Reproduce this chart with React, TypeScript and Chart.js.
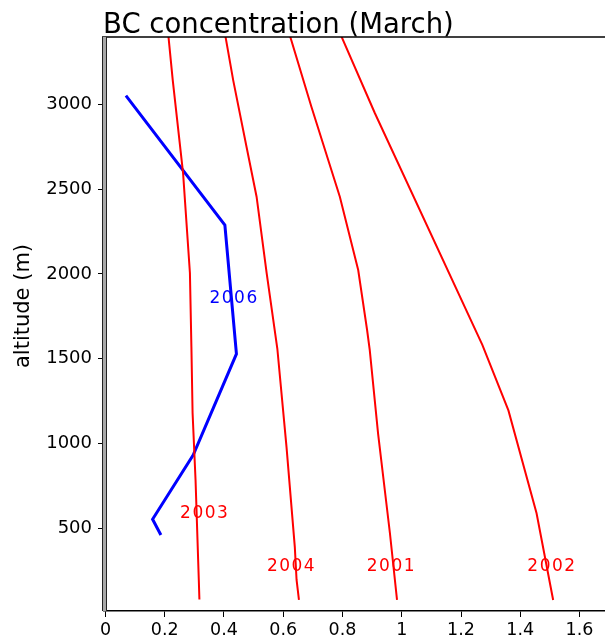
import { useEffect, useRef } from "react";
import { Chart, registerables } from "chart.js";

Chart.register(...registerables);

const TITLE = "BC concentration (March)";
const Y_TITLE = "altitude (m)";

const X_TICKS = [0, 0.2, 0.4, 0.6, 0.8, 1, 1.2, 1.4, 1.6];
const X_TICK_LABELS = ["0", "0.2", "0.4", "0.6", "0.8", "1", "1.2", "1.4", "1.6"];
const Y_TICKS = [500, 1000, 1500, 2000, 2500, 3000];
const Y_TICK_LABELS = ["500", "1000", "1500", "2000", "2500", "3000"];

// BC concentration (x) vs altitude (y, m)
const BC_2006 = [0.069, 0.403, 0.442, 0.296, 0.159, 0.187];
const ALT_2006 = [3051, 2288, 1528, 932, 553, 460];

const BC_2003 = [0.212, 0.227, 0.262, 0.285, 0.29, 0.294, 0.304, 0.315, 0.317];
const ALT_2003 = [3410, 3143, 2593, 2005, 1571, 1180, 785, 195, 80];

const BC_2004 = [0.404, 0.431, 0.476, 0.51, 0.544, 0.58, 0.611, 0.639, 0.645, 0.653];
const ALT_2004 = [3410, 3143, 2750, 2455, 2005, 1560, 980, 390, 195, 77];

const BC_2001 = [0.622, 0.695, 0.791, 0.853, 0.883, 0.892, 0.92, 0.96, 0.984];
const ALT_2001 = [3408, 2986, 2455, 2023, 1669, 1551, 1060, 472, 77];

const BC_2002 = [0.794, 0.909, 1.272, 1.36, 1.455, 1.511];
const ALT_2002 = [3410, 2949, 1581, 1195, 588, 77];

const LABEL_TEXT = ["2006", "2003", "2004", "2001", "2002"];
const LABEL_X = [0.434, 0.335, 0.628, 0.965, 1.507];
const LABEL_Y = [1852, 587, 274, 274, 274];
const LABEL_COLOR = ["#0000ff", "#ff0000", "#ff0000", "#ff0000", "#ff0000"];

const RED = "#ff0000";
const BLUE = "#0000ff";
const FONT = "'DejaVu Sans', sans-serif";

const toPoints = (xs: number[], ys: number[]) => xs.map((x, i) => ({ x, y: ys[i] }));

const framePlugin = {
  id: "frame",
  afterDraw(chart: any) {
    const { ctx, chartArea } = chart;
    const { left, right, top, bottom } = chartArea;
    ctx.save();
    // top border
    ctx.strokeStyle = "#000";
    ctx.lineWidth = 1.5;
    ctx.beginPath();
    ctx.moveTo(left - 2, top);
    ctx.lineTo(right, top);
    ctx.stroke();
    // left band
    ctx.fillStyle = "#a8a8a8";
    ctx.fillRect(left - 2, top, 5, bottom - top);
    ctx.strokeStyle = "#222";
    ctx.lineWidth = 1;
    ctx.beginPath();
    ctx.moveTo(left - 1.5, top);
    ctx.lineTo(left - 1.5, bottom);
    ctx.moveTo(left + 2.5, top);
    ctx.lineTo(left + 2.5, bottom);
    ctx.stroke();

    // title
    ctx.fillStyle = "#000";
    ctx.font = `27.5px ${FONT}`;
    ctx.textAlign = "left";
    ctx.textBaseline = "alphabetic";
    ctx.fillText(TITLE, 103, 33);

    // y title
    ctx.save();
    ctx.translate(29, 306);
    ctx.rotate(-Math.PI / 2);
    ctx.font = `21px ${FONT}`;
    ctx.textAlign = "center";
    ctx.textBaseline = "alphabetic";
    ctx.fillText(Y_TITLE, 0, 0);
    ctx.restore();

    // line labels
    const xs = chart.scales.x;
    const ys = chart.scales.y;
    ctx.font = `17px ${FONT}`;
    (ctx as any).letterSpacing = "1.5px";
    ctx.textAlign = "center";
    ctx.textBaseline = "middle";
    LABEL_TEXT.forEach((t, i) => {
      ctx.fillStyle = LABEL_COLOR[i];
      ctx.fillText(t, xs.getPixelForValue(LABEL_X[i]), ys.getPixelForValue(LABEL_Y[i]));
    });
    ctx.restore();
  },
};

export default function App() {
  const ref = useRef<HTMLCanvasElement>(null);
  useEffect(() => {
    if (!ref.current) return;
    const ds = (label: string, xs: number[], ys: number[], color: string, w: number) => ({
      label,
      data: toPoints(xs, ys),
      borderColor: color,
      backgroundColor: color,
      borderWidth: w,
      pointRadius: 0,
      showLine: true,
      tension: 0,
    });
    const chart = new Chart(ref.current, {
      type: "scatter",
      data: {
        datasets: [
          ds("2003", BC_2003, ALT_2003, RED, 2),
          ds("2004", BC_2004, ALT_2004, RED, 2),
          ds("2001", BC_2001, ALT_2001, RED, 2),
          ds("2002", BC_2002, ALT_2002, RED, 2),
          ds("2006", BC_2006, ALT_2006, BLUE, 3),
        ],
      },
      options: {
        animation: false,
        responsive: false,
        devicePixelRatio: 1,
        layout: { padding: { top: 37, left: 0, right: 0, bottom: 0 } },
        plugins: { legend: { display: false }, title: { display: false }, tooltip: { enabled: false } },
        scales: {
          x: {
            type: "linear",
            min: -0.005,
            max: 1.686,
            afterBuildTicks: (s: any) => {
              s.ticks = X_TICKS.map((v) => ({ value: v }));
            },
            afterFit: (s: any) => {
              s.height = 27;
            },
            grid: { drawOnChartArea: false, drawTicks: true, tickLength: 6, color: "#000", lineWidth: 1 },
            border: { display: true, color: "#000", width: 1.5 },
            ticks: {
              autoSkip: false,
              maxRotation: 0,
              padding: 3,
              color: "#000",
              font: { family: FONT, size: 17.5 },
              callback: (_v: any, i: number) => X_TICK_LABELS[i],
            },
          },
          y: {
            type: "linear",
            min: 12,
            max: 3397,
            afterBuildTicks: (s: any) => {
              s.ticks = Y_TICKS.map((v) => ({ value: v }));
            },
            afterFit: (s: any) => {
              s.width = 104;
            },
            grid: { drawOnChartArea: false, drawTicks: true, tickLength: 6, color: "#000", lineWidth: 1 },
            border: { display: false },
            ticks: {
              autoSkip: false,
              padding: 6,
              color: "#000",
              font: { family: FONT, size: 18 },
              callback: (_v: any, i: number) => Y_TICK_LABELS[i],
            },
          },
        },
      },
      plugins: [framePlugin],
    });
    return () => chart.destroy();
  }, []);
  return (
    <div style={{ position: "fixed", left: 0, top: 0, width: 605, height: 638, background: "#fff" }}>
      <canvas ref={ref} width={605} height={638} style={{ display: "block", width: 605, height: 638 }} />
    </div>
  );
}
